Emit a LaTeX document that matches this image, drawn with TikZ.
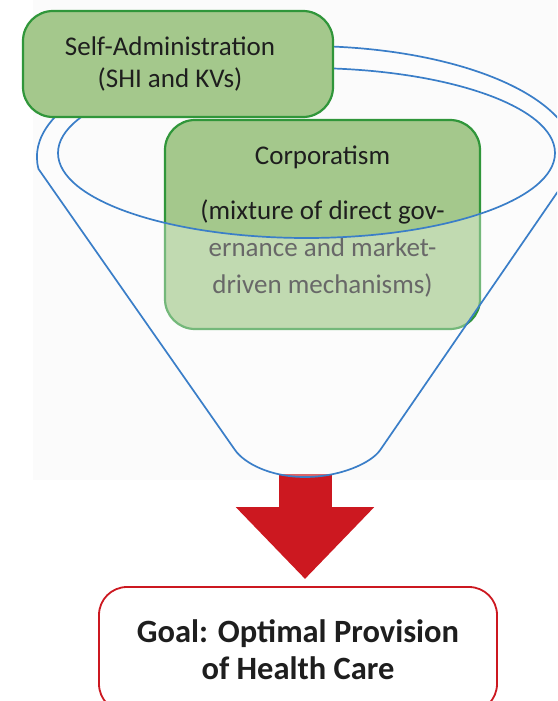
\documentclass[tikz,border=0pt]{standalone}
\usepackage{fontspec}
\setmainfont{Carlito}
\usepackage{xcolor}
\usetikzlibrary{arrows.meta}
\definecolor{boxgreen}{RGB}{164,200,140}
\definecolor{edgegreen}{RGB}{48,150,58}
\definecolor{funnelblue}{RGB}{58,126,200}
\definecolor{arrowred}{RGB}{204,24,32}
\definecolor{textdark}{RGB}{30,30,30}

\begin{document}
\begin{tikzpicture}[x=1pt,y=1pt,
		greenbox/.style={draw=edgegreen, line width=2.2pt, fill=boxgreen, rounded corners=30pt},
		boxtext/.style={text=textdark, align=center, font=\fontsize{27}{32}\selectfont},
		funnel/.style={draw=funnelblue, line width=1.7pt},
		goalbox/.style={draw=arrowred, line width=1.8pt, fill=white, rounded corners=28pt, text=textdark, align=center, font=\bfseries\fontsize{32.5}{37}\selectfont}]
		\clip (0,0) rectangle (557,-701);
		\fill[black!1.5] (33,0) rectangle (557,-480);
		% funnel outline points
		\coordinate (rimL) at (38.5,-169);
		\coordinate (bendR) at (380.2,-450);
		\coordinate (bendL) at (235,-450);
		\coordinate (spout) at (305,-474);
		% box behind the funnel
		\node[greenbox, minimum width=315, minimum height=209] (corp) at (322.5,-224.5) {};
		\node[boxtext, font=\fontsize{27}{37}\selectfont] (corptxt) at (322.5,-222) {Corporatism\\[18pt](mixture of direct gov-\\ernance and market-\\driven mechanisms)};
		\node[goalbox, minimum width=398, minimum height=125] (goal) at (298,-649.5) {Goal: Optimal Provision\\of Health Care};
		\draw[arrowred, line width=53pt, -{Triangle[width=134pt, length=72pt]}, shorten >=7pt] (spout) -- (spout |- goal.north);
		% funnel body, whitened outside the rim
		\fill[white, fill opacity=0.33, even odd rule] (rimL) arc[start angle=186.2, end angle=-6.2, x radius=269, y radius=111] -- (bendR) .. controls (371.1,-463.2) and (340,-477) .. (305,-477) .. controls (270,-477) and (244.2,-463.1) .. (bendL) -- cycle (306.5,-153) ellipse[x radius=248.5, y radius=85];
		\draw[funnel] (rimL) arc[start angle=186.2, end angle=-6.2, x radius=269, y radius=111] -- (bendR) .. controls (371.1,-463.2) and (340,-477) .. (305,-477) .. controls (270,-477) and (244.2,-463.1) .. (bendL) -- cycle;
		\draw[funnel] (306.5,-153) ellipse[x radius=248.5, y radius=85];
		\node[greenbox, minimum width=310, minimum height=106] (selfadm) at (178,-64) {};
		\node[boxtext] (selfadmtxt) at (170,-64) {Self-Administration\\(SHI and KVs)};
\end{tikzpicture}
\end{document}
